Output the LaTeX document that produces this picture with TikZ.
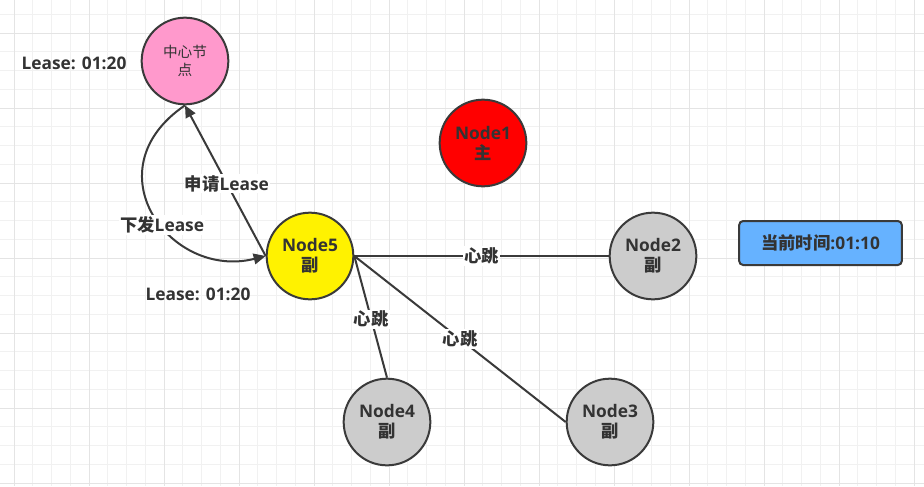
\documentclass[tikz,border=0pt]{standalone}
\usepackage{fontspec}
\setmainfont{Open Sans}
\newfontfamily\cjk{Noto Sans CJK SC}
\usetikzlibrary{arrows.meta}
\definecolor{txt}{HTML}{333333}
\definecolor{strk}{HTML}{3A3A3A}
\definecolor{gridminor}{HTML}{F1F1F1}
\definecolor{gridmajor}{HTML}{E4E4E4}
\definecolor{pinkc}{HTML}{FF99CC}
\definecolor{grayc}{HTML}{CCCCCC}
\definecolor{bluec}{HTML}{66B2FF}
\tikzset{
  circ/.style={circle, draw=strk, line width=1.5pt, minimum size=65pt, inner sep=0pt,
    align=center, text=txt, font=\fontsize{13pt}{15pt}\selectfont\bfseries},
  lbl/.style={fill=white, inner sep=1pt, text=txt, font=\fontsize{13pt}{15pt}\selectfont\bfseries},
  plain/.style={text=txt, font=\fontsize{13pt}{15pt}\selectfont\bfseries},
  edge/.style={draw=strk, line width=1.5pt},
  arr/.style={edge, -{Triangle[length=9pt, width=8pt]}},
}
\begin{document}
\begin{tikzpicture}[x=0.75pt, y=-0.75pt]
\useasboundingbox (0,0) rectangle (924,486);
\fill[white] (0,0) rectangle (924,486);
% grid
\foreach \i in {-1,...,49} {
  \draw[gridminor, line width=0.75pt] ({14+18.75*\i},0) -- ({14+18.75*\i},486);
}
\foreach \j in {-1,...,26} {
  \draw[gridminor, line width=0.75pt] (0,{14.25+18.75*\j}) -- (924,{14.25+18.75*\j});
}
\foreach \i in {0,...,12} {
  \draw[gridmajor, line width=0.75pt] ({14+75*\i},0) -- ({14+75*\i},486);
}
\foreach \j in {0,...,6} {
  \draw[gridmajor, line width=0.75pt] (0,{33+75*\j}) -- (924,{33+75*\j});
}
% nodes
\node[circ, fill=pinkc, font=\fontsize{11pt}{14pt}\selectfont] (c) at (185,61) {\cjk 中心节\\\cjk 点};
\node[circ, fill=red] (n1) at (483,143) {Node1\\{\cjk\bfseries 主}};
\node[circ, fill=yellow] (n5) at (310,256) {Node5\\{\cjk\bfseries 副}};
\node[circ, fill=grayc] (n2) at (653,256) {Node2\\{\cjk\bfseries 副}};
\node[circ, fill=grayc] (n4) at (387,422) {Node4\\{\cjk\bfseries 副}};
\node[circ, fill=grayc] (n3) at (610,422) {Node3\\{\cjk\bfseries 副}};
\node[draw=strk, line width=1.5pt, fill=bluec, rounded corners=3pt, minimum width=122pt,
  minimum height=33pt, text=txt, font=\fontsize{13pt}{15pt}\selectfont\bfseries] (t) at (820.5,243)
  {{\cjk\bfseries 当前时间}:01:10};
% text labels
\node[plain] (l1) at (74,63) {Lease: 01:20};
\node[plain] (l2) at (198,294) {Lease: 01:20};
% edges
\draw[arr] (n5.west) -- node[lbl, pos=0.48] {{\cjk\bfseries 申请}Lease} (c.south);
\draw[arr] (c.south) .. controls (90,170) and (170,280) .. node[lbl, pos=0.56] {{\cjk\bfseries 下发}Lease} (n5.west);
\draw[edge] (n5.east) -- node[lbl] {\cjk\bfseries 心跳} (n2.west);
\draw[edge] (n5.east) -- node[lbl, pos=0.52] {\cjk\bfseries 心跳} (n4.north);
\draw[edge] (n5.east) -- node[lbl, pos=0.5] {\cjk\bfseries 心跳} (n3.west);
\end{tikzpicture}
\end{document}
